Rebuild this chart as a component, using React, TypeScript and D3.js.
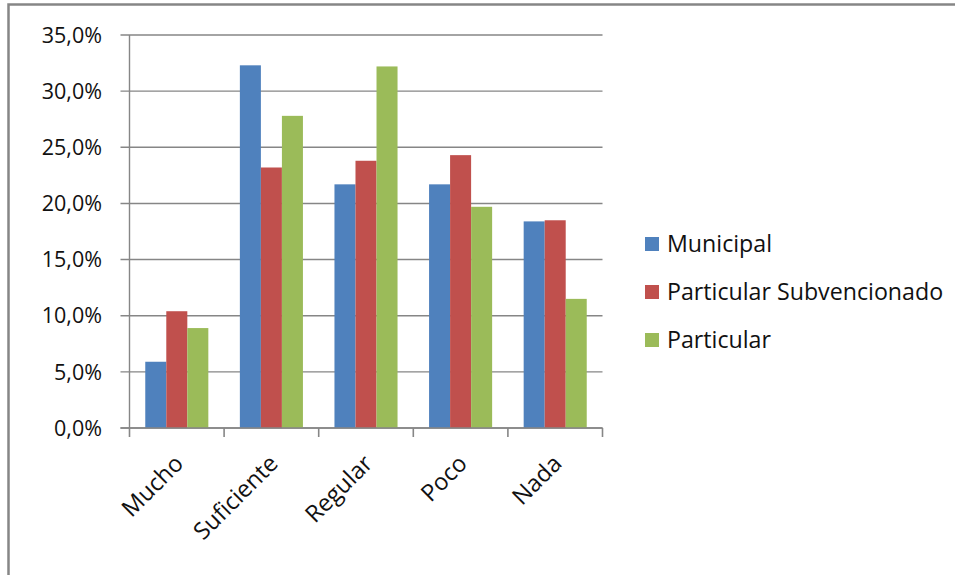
import React from "react";
import * as d3 from "d3";

const categories = ["Mucho", "Suficiente", "Regular", "Poco", "Nada"];
const seriesNames = ["Municipal", "Particular Subvencionado", "Particular"];
const municipal = [5.9, 32.3, 21.7, 21.7, 18.4];
const subvencionado = [10.4, 23.2, 23.8, 24.3, 18.5];
const particular = [8.9, 27.8, 32.2, 19.7, 11.5];
const yTicks = [0, 5, 10, 15, 20, 25, 30, 35];
const colors = ["#4F81BD", "#C0504D", "#9BBB59"];

const W = 955;
const H = 575;
const FONT = "'Open Sans', Lato, sans-serif";
const GRID = "#868686";

export default function App() {
  const values = [municipal, subvencionado, particular];
  const x = d3.scaleBand<string>().domain(categories).range([129.5, 602.5]).padding(0);
  const xs = d3
    .scaleBand<string>()
    .domain(seriesNames)
    .range([0, x.bandwidth()])
    .paddingInner(0)
    .paddingOuter(0.75);
  const y = d3.scaleLinear().domain([0, 35]).range([428, 35]);
  const fmt = (v: number) => v.toFixed(1).replace(".", ",") + "%";
  const [x0, x1] = x.range();

  return (
    <div style={{ position: "absolute", left: 0, top: 0 }}>
      <svg width={W} height={H} style={{ display: "block" }} fontFamily={FONT}>
        <rect width={W} height={H} fill="#fff" />
        {/* chart frame */}
        <path d={`M8.5,${H + 2} V4.5 H${W + 2}`} fill="none" stroke={GRID} strokeWidth={2.5} />

        {/* gridlines and y ticks */}
        {yTicks.map((t) => (
          <g key={t}>
            <line x1={x0 - 9} x2={x1} y1={y(t)} y2={y(t)} stroke={GRID} strokeWidth={1.4} />
            <text
              x={102}
              y={y(t)}
              dy="0.36em"
              textAnchor="end"
              fontSize={21.5}
              fill="#111"
            >
              {fmt(t)}
            </text>
          </g>
        ))}
        {/* y axis */}
        <line x1={x0} x2={x0} y1={y(35)} y2={y(0)} stroke={GRID} strokeWidth={1.4} />

        {/* bars */}
        {categories.map((c, i) => (
          <g key={c} transform={`translate(${x(c)},0)`}>
            {seriesNames.map((s, j) => (
              <rect
                key={s}
                x={xs(s)}
                width={xs.bandwidth()}
                y={y(values[j][i])}
                height={y(0) - y(values[j][i])}
                fill={colors[j]}
              />
            ))}
          </g>
        ))}

        {/* x axis */}
        <line x1={x0 - 9} x2={x1} y1={y(0)} y2={y(0)} stroke={GRID} strokeWidth={1.6} />
        {[...categories.map((c) => x(c) as number), x1].map((px, i) => (
          <line key={i} x1={px} x2={px} y1={y(0)} y2={y(0) + 9} stroke={GRID} strokeWidth={1.6} />
        ))}
        {categories.map((c) => {
          const cx = (x(c) as number) + x.bandwidth() / 2 + 8;
          const cy = 465;
          return (
            <text
              key={c}
              transform={`translate(${cx},${cy}) rotate(-45)`}
              textAnchor="end"
              fontSize={23.5}
              fill="#111"
            >
              {c}
            </text>
          );
        })}

        {/* legend */}
        {seriesNames.map((s, j) => {
          const ly = 244 + j * 48;
          return (
            <g key={s}>
              <rect x={645} y={ly - 7} width={14} height={14} fill={colors[j]} />
              <text x={667} y={ly} dy="0.36em" fontSize={23.2} fill="#111">
                {s}
              </text>
            </g>
          );
        })}
      </svg>
    </div>
  );
}
